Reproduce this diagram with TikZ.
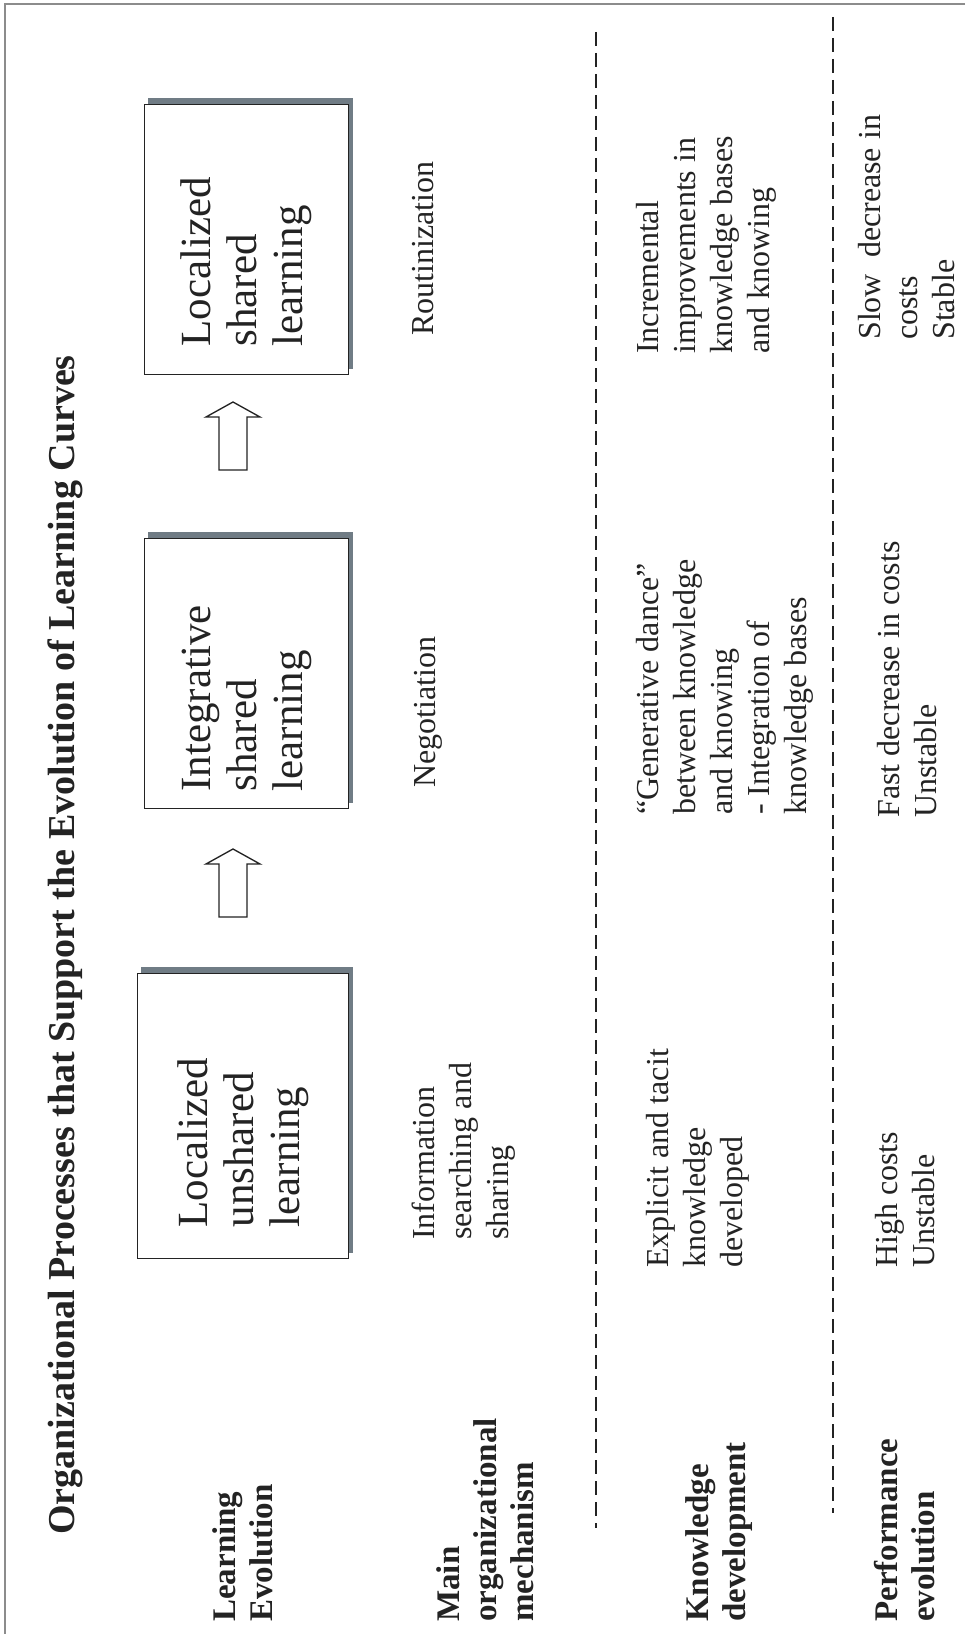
\documentclass[tikz,border=0pt]{standalone}
\usepackage{fontspec}
\setmainfont{Liberation Serif}
\usetikzlibrary{calc,backgrounds}

\definecolor{ink}{RGB}{35,35,35}
\definecolor{shadowgray}{RGB}{112,124,133}
\definecolor{framegray}{RGB}{140,140,140}

\newcommand{\cellfont}{\fontsize{24}{27.75}\selectfont}
\newcommand{\lblfont}{\bfseries\fontsize{24.75}{27.75}\selectfont}
\newcommand{\stagefont}{\fontsize{32.25}{34.5}\selectfont}
\newcommand{\titlefont}{\bfseries\fontsize{28.5}{34}\selectfont}

\tikzset{
  cell/.style={rotate=90, anchor=north west, inner sep=0pt, align=left, text=ink, font=\cellfont},
  rowlabel/.style={cell, font=\lblfont},
  stage/.style={draw=ink, line width=0.9pt, fill=white, rotate=90, anchor=north west, align=left, text=ink, font=\stagefont, inner ysep=0pt},
  stageshadow/.style={fill=shadowgray},
  blockarrow/.style={draw=ink, line width=1pt, fill=white, line join=miter},
  divider/.style={draw=ink, line width=1.6pt, dash pattern=on 10.5pt off 5.25pt},
}

\begin{document}
\begin{tikzpicture}[x=0.75pt,y=0.75pt,yscale=-1,xscale=1]
\useasboundingbox (0,0) rectangle (965,1634);

%Frame
\draw [color=framegray, line width=0.9pt] (965,4) -- (5,4) -- (5,1634) ;

%Title
\node [cell, font=\titlefont] (title) at (47,1535) {Organizational Processes that Support the Evolution of Learning Curves};

%Stages
\node [stage, minimum width=213.75pt, minimum height=158.25pt, inner xsep=23.25pt, text width=167.25pt] (unshared) at (137,1259) {Localized\\unshared\\learning};
\node [stage, minimum width=202.5pt, minimum height=153pt, inner xsep=12.75pt, text width=177pt] (integrative) at (144,809) {Integrative\\shared\\learning};
\node [stage, minimum width=202.5pt, minimum height=153pt, inner xsep=21pt, text width=160.5pt] (shared) at (144,375) {Localized\\shared\\learning};

\begin{scope}[on background layer]
\foreach \b in {unshared,integrative,shared}
  \fill [stageshadow] ($(\b.north east)+(4,-6)$) rectangle ($(\b.south west)+(4,-6)$) ;
\end{scope}

%Block arrows
\coordinate (tipA) at (233,849);
\coordinate (tipB) at (233,402);
\foreach \t in {tipA,tipB}
  \draw [blockarrow] (\t) -- ++(27,15) -- ++(-13,0) -- ++(0,53) -- ++(-28,0) -- ++(0,-53) -- ++(-13,0) -- cycle ;

%Dashed dividers
\coordinate (divAtop) at (596,32);
\coordinate (divAend) at (596,1528);
\coordinate (divBtop) at (833,17);
\coordinate (divBend) at (833,1513);
\draw [divider] (divAtop) -- (divAend) ;
\draw [divider] (divBtop) -- (divBend) ;

%Row labels
\node [rowlabel] (learnlbl) at (212,1622) {Learning\\Evolution};
\node [rowlabel] (mechlbl) at (436,1622) {Main\\organizational\\mechanism};
\node [rowlabel] (knowlbl) at (685,1622) {Knowledge\\development};
\node [rowlabel] (perflbl) at (874,1622) {Performance\\evolution};

%Mechanism row
\node [cell] (mechA) at (412,1240) {Information\\searching and\\sharing};
\node [cell] (mechB) at (414,788) {Negotiation};
\node [cell] (mechC) at (412,336) {Routinization};

%Knowledge row
\node [cell] (knowA) at (646,1268) {Explicit and tacit\\knowledge\\developed};
\node [cell] (knowB) at (636,815) {“Generative dance”\\between knowledge\\and knowing\\- Integration of\\knowledge bases};
\node [cell] (knowC) at (636,354) {Incremental\\improvements in\\knowledge bases\\and knowing};

%Performance row
\node [cell] (perfA) at (875,1268) {High costs\\Unstable};
\node [cell] (perfB) at (877,818) {Fast decrease in costs\\Unstable};
\node [cell] (perfC) at (858,340) {Slow~ decrease in\\costs\\Stable};

\end{tikzpicture}
\end{document}
